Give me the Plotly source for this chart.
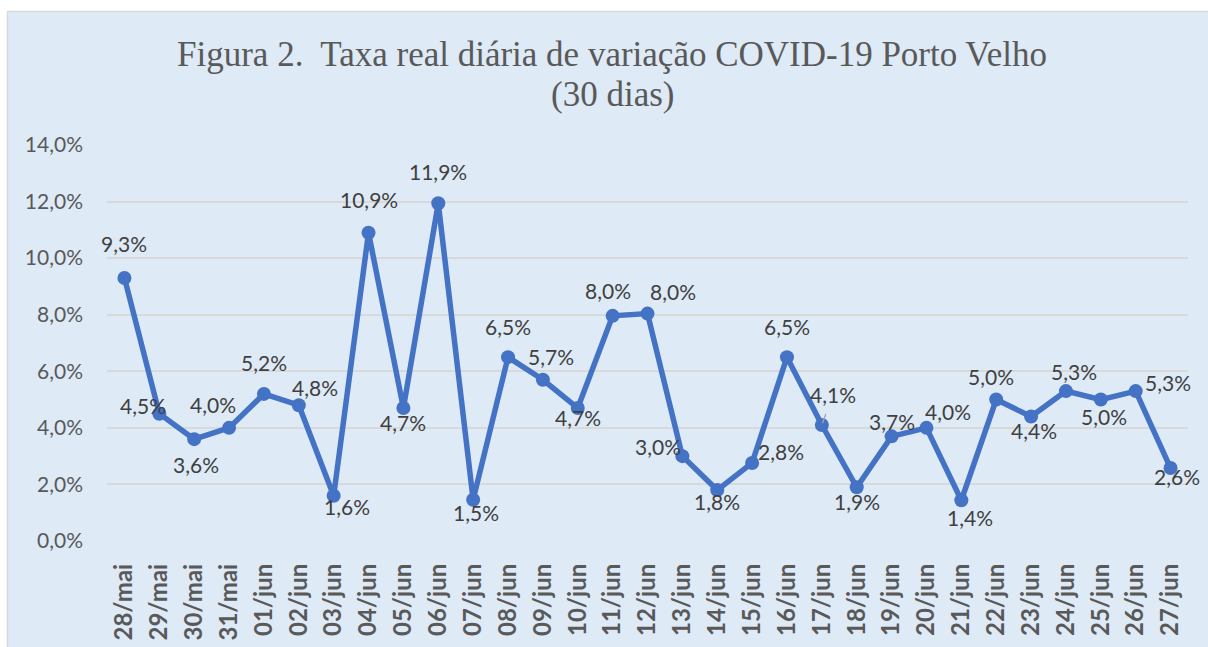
import plotly.graph_objects as go

categories = ["28/mai", "29/mai", "30/mai", "31/mai", "01/jun", "02/jun", "03/jun", "04/jun",
              "05/jun", "06/jun", "07/jun", "08/jun", "09/jun", "10/jun", "11/jun", "12/jun",
              "13/jun", "14/jun", "15/jun", "16/jun", "17/jun", "18/jun", "19/jun", "20/jun",
              "21/jun", "22/jun", "23/jun", "24/jun", "25/jun", "26/jun", "27/jun"]
taxa = [9.3, 4.5, 3.6, 4.0, 5.2, 4.8, 1.6, 10.9, 4.7, 11.94, 1.46, 6.5, 5.7, 4.7, 7.96, 8.04,
        3.0, 1.8, 2.76, 6.5, 4.1, 1.9, 3.7, 4.0, 1.44, 5.0, 4.4, 5.3, 5.0, 5.3, 2.58]
taxa_frac = [v / 100 for v in taxa]
y_ticks = [0, 0.02, 0.04, 0.06, 0.08, 0.10, 0.12, 0.14]
title_lines = ["Figura 2.  Taxa real diária de variação COVID-19 Porto Velho", "(30 dias)"]

# label pixel offsets (style only)
label_offsets = [(0, -34), (-16, -8), (2, 25), (-16, -23), (0, -31), (16, -18), (13, 11),
                 (0, -33), (0, 14), (0, -32), (3, 13), (0, -31), (8, -23), (0, 9), (-5, -25),
                 (25, -22), (-24, -10), (0, 11), (29, -11), (0, -31), (11, -31), (0, 14),
                 (0, -15), (22, -16), (9, 17), (-5, -23), (3, 14), (8, -20), (3, 17),
                 (32, -9), (6, 8)]

BG = "#DEEAF6"
GRID = "#D9D9D9"
LINE = "#4472C4"

fig = go.Figure()
fig.add_trace(go.Scatter(
    x=categories, y=taxa_frac, mode="lines+markers",
    line=dict(color=LINE, width=5.5),
    marker=dict(color=LINE, size=14),
    hoverinfo="skip", showlegend=False,
))

L, R, T, B = 107, 20, 145, 106
W, H = 1208, 647
pw, ph = W - L - R, H - T - B

def px_x(p):
    return (p - L) / pw

def px_y(p):
    return (H - B - p) / ph

annotations = []
for cat, v, (dx, dy) in zip(categories, taxa, label_offsets):
    txt = f"{v:.1f}".replace(".", ",") + "%"
    if cat == "17/jun":
        annotations.append(dict(
            x=cat, y=v / 100, xref="x", yref="y", text=txt, showarrow=True,
            ax=dx, ay=dy, arrowhead=0, arrowwidth=1.3,
            arrowcolor="#A6A6A6", standoff=2, startstandoff=6,
            font=dict(family="Lato", size=21, color="#404040"),
        ))
    else:
        annotations.append(dict(
            x=cat, y=v / 100, xref="x", yref="y", text=txt, showarrow=False,
            xshift=dx, yshift=-dy,
            font=dict(family="Lato", size=21, color="#404040"),
        ))

for line_text, yc in zip(title_lines, [55, 95]):
    annotations.append(dict(
        x=px_x(612), y=px_y(yc), xref="paper", yref="paper", text=line_text,
        showarrow=False, xanchor="center", yanchor="middle",
        font=dict(family="Liberation Serif", size=35, color="#595959"),
    ))

shapes = [
    dict(type="rect", xref="paper", yref="paper", x0=px_x(-5), x1=px_x(W + 5),
         y0=px_y(11), y1=px_y(-5), fillcolor="white", line=dict(width=0), layer="below"),
    dict(type="rect", xref="paper", yref="paper", x0=px_x(-5), x1=px_x(7),
         y0=px_y(H + 5), y1=px_y(-5), fillcolor="white", line=dict(width=0), layer="below"),
    dict(type="line", xref="paper", yref="paper", x0=px_x(7), x1=px_x(W + 5),
         y0=px_y(11.5), y1=px_y(11.5), line=dict(color=GRID, width=1.5), layer="below"),
    dict(type="line", xref="paper", yref="paper", x0=px_x(7.5), x1=px_x(7.5),
         y0=px_y(H + 5), y1=px_y(11), line=dict(color=GRID, width=1.5), layer="below"),
]

fig.update_layout(
    width=W, height=H,
    margin=dict(l=L, r=R, t=T, b=B, pad=0),
    paper_bgcolor=BG, plot_bgcolor=BG,
    separators=",.",
    xaxis=dict(
        type="category", range=[-0.5, len(categories) - 0.5], autorange=False,
        tickangle=-90, showgrid=False, zeroline=False, showline=False,
        ticks="", ticklabelstandoff=17, automargin=False,
        tickfont=dict(family="Lato", size=24, color="#595959", weight="bold"),
    ),
    yaxis=dict(
        range=[0, 0.14], autorange=False, tickvals=y_ticks, tickformat=".1%",
        showgrid=True, gridcolor=GRID, gridwidth=1.5, zeroline=False, showline=False,
        ticks="", ticklabelstandoff=23, automargin=False,
        tickfont=dict(family="Lato", size=21, color="#595959"),
    ),
    annotations=annotations,
    shapes=shapes,
)

fig.write_html("out.html", config={"displayModeBar": False},
               post_script="document.body.style.margin='0px';document.body.style.overflow='hidden';")
